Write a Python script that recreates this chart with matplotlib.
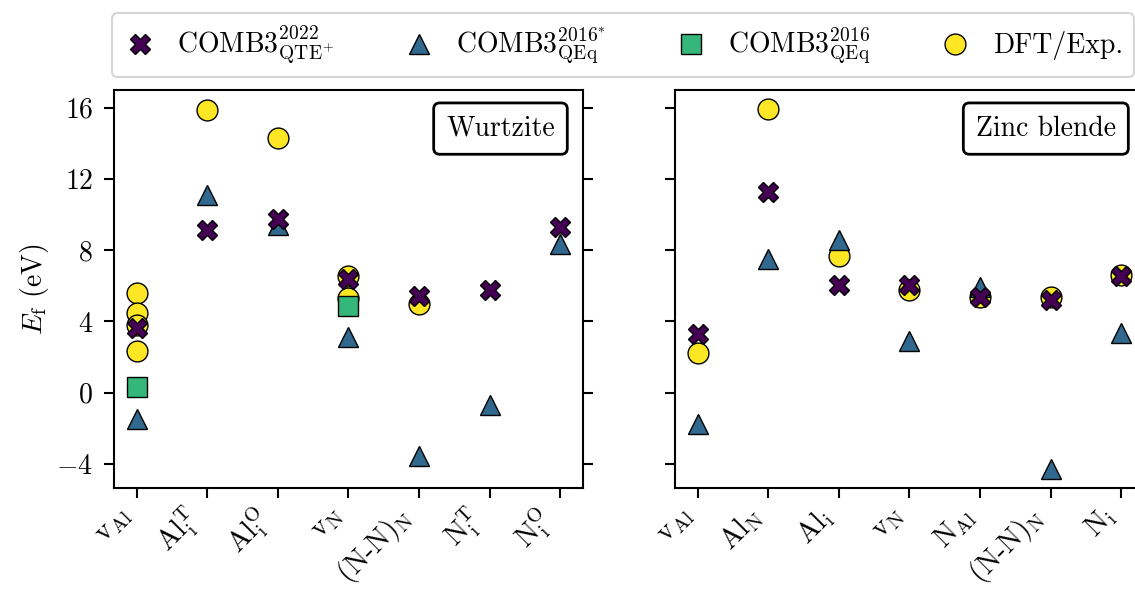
import numpy as np
import matplotlib.pyplot as plt
from matplotlib.lines import Line2D
from matplotlib.transforms import ScaledTranslation

plt.rcParams['font.family'] = 'serif'
plt.rcParams['font.serif'] = ['cmr10']
plt.rcParams['mathtext.fontset'] = 'cm'
plt.rcParams['axes.formatter.use_mathtext'] = True
plt.rcParams['font.size'] = 20

# Defect labels for each polytype
wz_labels = [r'v$_{\mathrm{Al}}$', r'Al$_{\mathrm{i}}^{\mathrm{T}}$', r'Al$_{\mathrm{i}}^{\mathrm{O}}$',
             r'v$_{\mathrm{N}}$', r'(N-N)$_{\mathrm{N}}$', r'N$_{\mathrm{i}}^{\mathrm{T}}$',
             r'N$_{\mathrm{i}}^{\mathrm{O}}$']
zb_labels = [r'v$_{\mathrm{Al}}$', r'Al$_{\mathrm{N}}$', r'Al$_{\mathrm{i}}$', r'v$_{\mathrm{N}}$',
             r'N$_{\mathrm{Al}}$', r'(N-N)$_{\mathrm{N}}$', r'N$_{\mathrm{i}}$']

# Wurtzite formation energies (eV)
wz_comb2022 = [3.65, 9.14, 9.76, 6.36, 5.42, 5.74, 9.29]
wz_comb2016s = [-1.50, 11.08, 9.40, 3.13, -3.56, -0.70, 8.34]
wz_comb2016_x = [0, 3]
wz_comb2016 = [0.33, 4.85]
wz_dft_x = [0, 0, 0, 0, 1, 2, 3, 3, 4]
wz_dft = [5.61, 4.45, 3.80, 2.34, 15.87, 14.31, 6.58, 5.30, 5.00]

# Zinc blende formation energies (eV)
zb_comb2022 = [3.32, 11.25, 6.02, 6.02, 5.40, 5.22, 6.58]
zb_comb2016s = [-1.76, 7.52, 8.56, 2.89, 5.91, -4.29, 3.37]
zb_dft = [2.25, 15.92, 7.70, 5.74, 5.35, 5.37, 6.62]

names = [r'$\mathrm{COMB3}^{2022}_{\mathrm{QTE}^{+}}$',
         r'$\mathrm{COMB3}^{2016^{*}}_{\mathrm{QEq}}$',
         r'$\mathrm{COMB3}^{2016}_{\mathrm{QEq}}$',
         'DFT/Exp.']
markers = ['X', '^', 's', 'o']
colors = plt.cm.viridis(np.linspace(0, 1, 4))
ms = 15

fig = plt.figure(figsize=(11.35, 5.93), dpi=100)
ax1 = fig.add_axes([0.1004, 0.1771, 0.4132, 0.6712])
ax2 = fig.add_axes([0.5947, 0.1771, 0.4132, 0.6712], sharey=ax1)


def pts(ax, x, y, i, z):
    ax.plot(x, y, ls='none', marker=markers[i], ms=ms, color=colors[i],
            mec='k', mew=1, zorder=z)


idx = np.arange(7)
pts(ax1, wz_dft_x, wz_dft, 3, 3)
pts(ax1, wz_comb2016_x, wz_comb2016, 2, 4)
pts(ax1, idx, wz_comb2016s, 1, 5)
pts(ax1, idx, wz_comb2022, 0, 6)

pts(ax2, idx, zb_dft, 3, 3)
pts(ax2, idx, zb_comb2016s, 1, 5)
pts(ax2, idx, zb_comb2022, 0, 6)

shift = ScaledTranslation(-8 / 100, 0, fig.dpi_scale_trans)
for ax, labels, title in [(ax1, wz_labels, 'Wurtzite'), (ax2, zb_labels, 'Zinc blende')]:
    ax.set_xlim(-0.32, 6.32)
    ax.set_xticks(idx)
    ax.set_xticklabels(labels, rotation=45, ha='right', fontsize=20.5)
    for lab in ax.get_xticklabels():
        lab.set_transform(lab.get_transform() + shift)
    ax.tick_params(direction='out', length=7, width=1.5, right=True, pad=8)
    ax.tick_params(axis='x', pad=3)
    for s in ax.spines.values():
        s.set_linewidth(1.5)
    ax.text(0.94, 0.936, title, transform=ax.transAxes, ha='right', va='top',
            bbox=dict(boxstyle='round,pad=0.45,rounding_size=0.22', fc='white',
                      ec='black', lw=2))

ax1.set_ylim(-5.35, 17)
ax1.set_yticks([-4, 0, 4, 8, 12, 16])
ax1.set_ylabel(r'$E_{\mathrm{f}}$ (eV)')
ax2.tick_params(labelleft=False)

handles = [Line2D([], [], ls='none', marker=markers[i], ms=ms, color=colors[i],
                  mec='k', mew=1) for i in range(4)]
leg = fig.legend(handles, names, loc='upper left', bbox_to_anchor=(112 / 1135, 1 - 13 / 593),
                 borderaxespad=0, ncol=4, handlelength=1.2, handletextpad=0.75,
                 columnspacing=2.45, fancybox=True)
leg.get_frame().set_linewidth(1.5)
leg.get_frame().set_edgecolor('0.8')

fig.savefig('out.png', dpi=100)
